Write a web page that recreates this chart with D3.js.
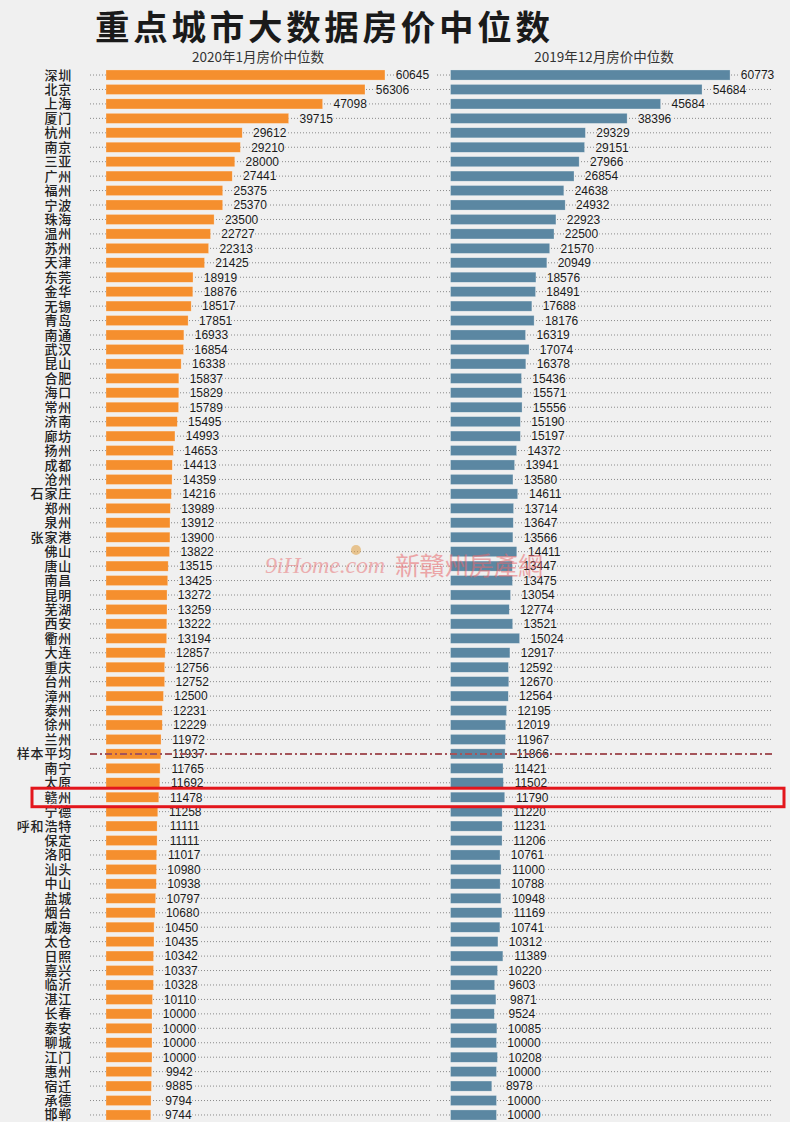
<!DOCTYPE html>
<html>
<head>
<meta charset="utf-8">
<script src="https://cdn.jsdelivr.net/npm/d3@7/dist/d3.min.js"></script>
<style>
  html, body { margin: 0; padding: 0; background: #f0f0f0; }
  svg { display: block; }
</style>
</head>
<body>
<svg id="chart" width="790" height="1122"></svg>
<script>
const title = "重点城市大数据房价中位数";
const seriesNames = ["2020年1月房价中位数", "2019年12月房价中位数"];
const cities = ["深圳","北京","上海","厦门","杭州","南京","三亚","广州","福州","宁波","珠海","温州","苏州","天津","东莞","金华","无锡","青岛","南通","武汉","昆山","合肥","海口","常州","济南","廊坊","扬州","成都","沧州","石家庄","郑州","泉州","张家港","佛山","唐山","南昌","昆明","芜湖","西安","衢州","大连","重庆","台州","漳州","泰州","徐州","兰州","样本平均","南宁","太原","赣州","宁德","呼和浩特","保定","洛阳","汕头","中山","盐城","烟台","威海","太仓","日照","嘉兴","临沂","湛江","长春","泰安","聊城","江门","惠州","宿迁","承德","邯郸"];
const values2020 = [60645,56306,47098,39715,29612,29210,28000,27441,25375,25370,23500,22727,22313,21425,18919,18876,18517,17851,16933,16854,16338,15837,15829,15789,15495,14993,14653,14413,14359,14216,13989,13912,13900,13822,13515,13425,13272,13259,13222,13194,12857,12756,12752,12500,12231,12229,11972,11937,11765,11692,11478,11258,11111,11111,11017,10980,10938,10797,10680,10450,10435,10342,10337,10328,10110,10000,10000,10000,10000,9942,9885,9794,9744];
const values2019 = [60773,54684,45684,38396,29329,29151,27966,26854,24638,24932,22923,22500,21570,20949,18576,18491,17688,18176,16319,17074,16378,15436,15571,15556,15190,15197,14372,13941,13580,14611,13714,13647,13566,14411,13447,13475,13054,12774,13521,15024,12917,12592,12670,12564,12195,12019,11967,11866,11421,11502,11790,11220,11231,11206,10761,11000,10788,10948,11169,10741,10312,11389,10220,9603,9871,9524,10085,10000,10208,10000,8978,10000,10000];
const avgLabel = "样本平均";
const highlightCity = "赣州";
const watermarkLatin = "9iHome.com";
const watermarkCJK = "新贛州房產網";

const bg = "#f0f0f0";
const svg = d3.select("#chart");
svg.append("rect").attr("width", 790).attr("height", 1122).attr("fill", bg);

const y = d3.scaleBand().domain(cities).range([67.8, 1122.2]).paddingInner(0.3).paddingOuter(0.15);
const cy = c => y(c) + y.bandwidth() / 2;
const x = d3.scaleLinear().domain([0, 65000]).range([0, 299]);

const panels = [
  { name: seriesNames[0], values: values2020, x0: 106, dotStart: 90, dotEnd: 430, color: "#f58f2e", titleX: 258 },
  { name: seriesNames[1], values: values2019, x0: 450.5, dotStart: 437, dotEnd: 773, color: "#5b87a2", titleX: 604 }
];

// title
svg.append("text").attr("x", 95).attr("y", 40)
  .attr("font-family", "'Noto Sans CJK SC', sans-serif").attr("font-size", 34.5).attr("font-weight", 700)
  .attr("fill", "#1a1a1a").attr("textLength", 455).text(title);

panels.forEach(p => {
  const g = svg.append("g");
  g.append("text").attr("x", p.titleX).attr("y", 62).attr("text-anchor", "middle")
    .attr("font-family", "'Noto Sans CJK SC', sans-serif").attr("font-size", 13.5)
    .attr("fill", "#333").text(p.name);

  // dotted leader lines
  g.selectAll("line.dot").data(cities.filter(c => c !== avgLabel)).join("line")
    .attr("x1", p.dotStart).attr("x2", p.dotEnd)
    .attr("y1", d => cy(d)).attr("y2", d => cy(d))
    .attr("stroke", "#8a8a8a").attr("stroke-width", 1).attr("stroke-dasharray", "1,2");

  // bars
  g.selectAll("rect.bar").data(cities).join("rect")
    .attr("x", p.x0).attr("y", d => y(d))
    .attr("width", (d, i) => x(p.values[i])).attr("height", y.bandwidth())
    .attr("fill", p.color).attr("stroke", "rgba(255,255,255,0.45)").attr("stroke-width", 0.6);

  // value labels
  g.selectAll("text.val").data(cities).join("text")
    .attr("x", (d, i) => p.x0 + x(p.values[i]) + 27.5)
    .attr("y", d => cy(d) + 4.3)
    .attr("text-anchor", "middle")
    .attr("font-family", "'Liberation Sans', Arial, sans-serif").attr("font-size", 12)
    .attr("fill", "#1a1a1a")
    .attr("stroke", bg).attr("stroke-width", 2.5).attr("paint-order", "stroke")
    .text((d, i) => p.values[i]);
});

// city labels
svg.selectAll("text.city").data(cities).join("text")
  .attr("x", 72).attr("y", d => cy(d) + 4.5)
  .attr("text-anchor", "end")
  .attr("font-family", "'Noto Sans CJK SC', sans-serif").attr("font-size", 13).attr("font-weight", 500)
  .attr("letter-spacing", 0.8)
  .attr("fill", "#222").text(d => d);

// sample average dash-dot line
svg.append("line")
  .attr("x1", 90).attr("x2", 773).attr("y1", cy(avgLabel)).attr("y2", cy(avgLabel))
  .attr("stroke", "#a4545a").attr("stroke-width", 2).attr("stroke-dasharray", "7,3,2,3");

// highlight rectangle
svg.append("rect")
  .attr("x", 32).attr("y", cy(highlightCity) - 9).attr("width", 752).attr("height", 18.5)
  .attr("fill", "none").attr("stroke", "#e3161c").attr("stroke-width", 3);

// watermark
const wm = svg.append("g").attr("opacity", 0.55);
wm.append("text").attr("x", 265).attr("y", 573)
  .attr("font-family", "'Liberation Serif', serif").attr("font-style", "italic").attr("font-size", 24)
  .attr("fill", "#e8787a").attr("textLength", 120).text(watermarkLatin);
wm.append("text").attr("x", 395).attr("y", 575)
  .attr("font-family", "'Noto Sans CJK TC', sans-serif").attr("font-size", 25)
  .attr("fill", "#e8686c").attr("textLength", 148).text(watermarkCJK);
wm.append("circle").attr("cx", 356).attr("cy", 550).attr("r", 5).attr("fill", "#e0a040");
</script>
</body>
</html>
